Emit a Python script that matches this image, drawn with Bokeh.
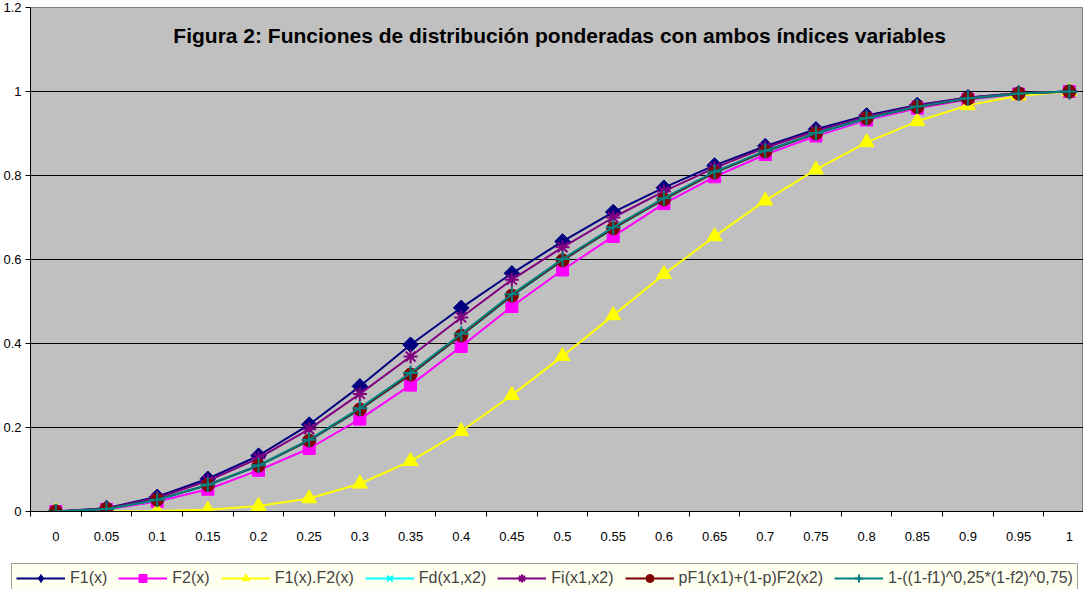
import math
from bokeh.plotting import figure
from bokeh.layouts import column, row
from bokeh.models import FixedTicker, Range1d, Label, Legend, LegendItem
from bokeh.embed import file_html
from bokeh.resources import INLINE

categories = ["0", "0.05", "0.1", "0.15", "0.2", "0.25", "0.3", "0.35", "0.4", "0.45", "0.5",
              "0.55", "0.6", "0.65", "0.7", "0.75", "0.8", "0.85", "0.9", "0.95", "1"]
F1 = [0, 0.008, 0.035, 0.078, 0.133, 0.207, 0.298, 0.397, 0.485, 0.567, 0.643, 0.713, 0.771, 0.824, 0.870, 0.910, 0.943, 0.968, 0.986, 0.996, 1.0]
F2 = [0, 0.005, 0.024, 0.053, 0.098, 0.150, 0.220, 0.301, 0.393, 0.488, 0.575, 0.655, 0.733, 0.797, 0.850, 0.894, 0.932, 0.960, 0.981, 0.994, 1.0]
F1F2 = [0, 0.0, 0.001, 0.004, 0.013, 0.031, 0.066, 0.120, 0.191, 0.277, 0.370, 0.467, 0.565, 0.655, 0.740, 0.814, 0.879, 0.929, 0.967, 0.990, 1.0]
Fd = [0, 0.006, 0.027, 0.062, 0.108, 0.168, 0.242, 0.325, 0.418, 0.512, 0.597, 0.673, 0.742, 0.806, 0.856, 0.899, 0.935, 0.963, 0.983, 0.995, 1.0]
Fi = [0, 0.007, 0.032, 0.073, 0.127, 0.196, 0.280, 0.369, 0.462, 0.552, 0.629, 0.700, 0.762, 0.818, 0.866, 0.906, 0.940, 0.966, 0.985, 0.996, 1.0]
Fp = [0, 0.006, 0.028, 0.063, 0.109, 0.169, 0.243, 0.326, 0.419, 0.514, 0.598, 0.674, 0.743, 0.807, 0.857, 0.900, 0.936, 0.963, 0.983, 0.995, 1.0]
Fg = [0, 0.006, 0.028, 0.064, 0.110, 0.171, 0.246, 0.330, 0.423, 0.517, 0.601, 0.677, 0.746, 0.809, 0.859, 0.901, 0.937, 0.964, 0.984, 0.995, 1.0]
y_ticks = [0, 0.2, 0.4, 0.6, 0.8, 1, 1.2]

names = ["F1(x)", "F2(x)", "F1(x).F2(x)", "Fd(x1,x2)", "Fi(x1,x2)",
         "pF1(x1)+(1-p)F2(x2)", "1-((1-f1)^0,25*(1-f2)^0,75)"]
series = [F1, F2, F1F2, Fd, Fi, Fp, Fg]
colors = ["#000080", "#FF00FF", "#FFFF00", "#00FFFF", "#800080", "#800000", "#008080"]
markers = ["square", "square", "triangle", "x", "asterisk", "circle", "cross"]
legend_markers = ["diamond", "square", "triangle", "x", "asterisk", "circle", "cross"]
angles = [math.pi / 4, 0, 0, 0, 0, 0, 0]
sizes = [11, 12, 15, 10, 14, 13, 15]
legend_sizes = [15, 12, 15, 10, 14, 13, 15]

FONT = "Liberation Sans"

p = figure(width=1083, height=563, output_backend="svg", toolbar_location=None,
           x_range=Range1d(-0.5, 20.28), y_range=Range1d(0, 1.2),
           min_border_left=27, min_border_right=0, min_border_top=7, min_border_bottom=52)
p.background_fill_color = "#C0C0C0"
p.border_fill_color = "white"
p.outline_line_color = "#808080"
p.outline_line_width = 1

xs = list(range(len(categories)))

p.xaxis.ticker = FixedTicker(ticks=xs, minor_ticks=[i - 0.5 for i in range(len(categories) + 1)])
p.xaxis.major_label_overrides = {i: c for i, c in enumerate(categories)}
p.xaxis.major_tick_out = 0
p.xaxis.major_tick_in = 0
p.xaxis.minor_tick_out = 5
p.xaxis.minor_tick_in = 0
p.xaxis.minor_tick_line_color = "black"
p.xaxis.axis_line_color = "black"
p.xaxis.major_label_standoff = 15
p.xaxis.major_label_text_font = FONT
p.xaxis.major_label_text_font_size = "13px"
p.xaxis.major_label_text_color = "black"

p.yaxis.ticker = FixedTicker(ticks=y_ticks, minor_ticks=[])
p.yaxis.major_label_overrides = {0: "0", 1: "1"}
p.yaxis.major_tick_out = 5
p.yaxis.major_tick_in = 0
p.yaxis.major_tick_line_color = "black"
p.yaxis.axis_line_color = "black"
p.yaxis.axis_line_width = 1
p.yaxis.major_label_standoff = 4
p.yaxis.major_label_text_font = FONT
p.yaxis.major_label_text_font_size = "13px"
p.yaxis.major_label_text_color = "black"

p.xgrid.grid_line_color = None
p.ygrid.ticker = FixedTicker(ticks=[0.2, 0.4, 0.6, 0.8, 1.0])
p.ygrid.grid_line_color = "black"
p.ygrid.grid_line_width = 1


def draw(fig, x, y, col, mk, sz, ang):
    r1 = fig.line(x, y, line_color=col, line_width=2)
    if mk in ("x", "asterisk", "cross"):
        r2 = fig.scatter(x, y, marker=mk, size=sz, angle=ang, line_color=col, line_width=2, fill_color=col)
    else:
        r2 = fig.scatter(x, y, marker=mk, size=sz, angle=ang, line_color=col, fill_color=col)
    return r1, r2


for ys, col, mk, sz, ang in zip(series, colors, markers, sizes, angles):
    draw(p, xs, ys, col, mk, sz, ang)

title = Label(x=532, y=476, x_units="screen", y_units="screen",
              text="Figura 2: Funciones de distribución ponderadas  con ambos índices variables",
              text_font=FONT, text_font_style="bold", text_font_size="21px",
              text_align="center", text_baseline="middle", text_color="black")
p.add_layout(title)

# legend strip below the chart (its sample glyphs sit outside the visible range)
lg = figure(width=1083, height=26, output_backend="svg", toolbar_location=None,
            x_range=Range1d(0, 1), y_range=Range1d(0, 1),
            x_axis_location=None, y_axis_location=None,
            min_border_left=11, min_border_right=0, min_border_top=0, min_border_bottom=0)
lg.grid.visible = False
lg.outline_line_color = None
lg.background_fill_color = "white"
lg.border_fill_color = "white"

items = []
for name, col, mk, sz in zip(names, colors, legend_markers, legend_sizes):
    r1, r2 = draw(lg, [5, 6], [5, 6], col, mk, sz, 0)
    items.append(LegendItem(label=name, renderers=[r1, r2]))

legend = Legend(items=items, orientation="horizontal", location="top_left",
                background_fill_color="#FFFFF0", background_fill_alpha=1,
                border_line_color="#404040", border_line_width=1,
                label_text_font=FONT, label_text_font_size="16px",
                glyph_width=49, glyph_height=20, label_height=20,
                label_standoff=5, spacing=11, padding=4, margin=0)
lg.add_layout(legend, "center")

layout = column(p, row(lg), spacing=0)
open("out.html", "w").write(file_html(layout, INLINE))
